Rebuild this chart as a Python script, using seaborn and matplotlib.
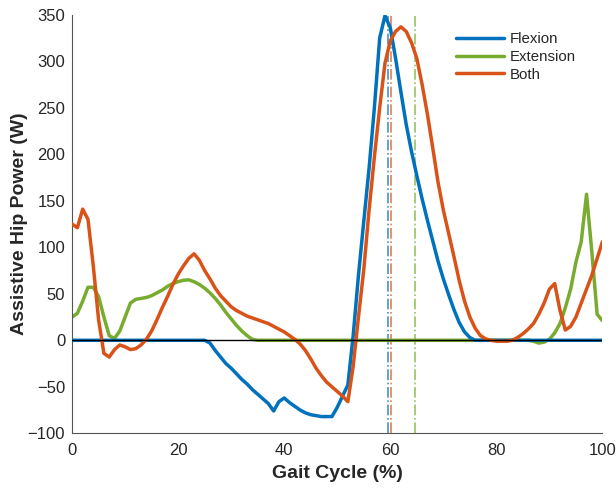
import numpy as np
import pandas as pd
import matplotlib
matplotlib.use("Agg")
import matplotlib.pyplot as plt
import seaborn as sns
from matplotlib.lines import Line2D

gait = list(range(0, 101))

flexion = [0]*26 + [
    -3, -11, -18, -25, -30, -36, -42, -47, -53, -58,          # 26-35
    -63, -68, -76, -66, -62, -67, -71, -75, -78, -80,          # 36-45
    -81, -82, -82, -82, -72, -60, -48, 5, 70, 128,             # 46-55
    185, 250, 325, 349, 336, 303, 267, 232, 203, 177,          # 56-65
    152, 129, 107, 85, 66, 49, 33, 19, 9, 3,                   # 66-75
] + [0]*25

extension = [
    25, 29, 42, 57, 57, 47, 25, 5, 2, 10,                      # 0-9
    25, 40, 44, 45, 46, 48, 51, 54, 58, 61,                    # 10-19
    63, 64.5, 65, 63, 60, 56, 51, 45, 38, 30,                  # 20-29
    23, 16, 10, 5, 1,                                          # 30-34
] + [0]*52 + [
    -1, -3, -2, 1, 8, 18, 35, 55, 84, 106, 157, 95, 28, 21     # 87-100
]

both = [
    125, 121, 141, 130, 80, 22, -14, -18, -10, -5,             # 0-9
    -7, -10, -9, -5, 1, 10, 22, 35, 47, 60,                    # 10-19
    71, 80, 88, 93, 86, 75, 66, 56, 48, 42,                    # 20-29
    36, 32, 29, 26, 24, 22, 20, 18, 15, 12,                    # 30-39
    9, 5, 1, -4, -11, -20, -30, -38, -45, -50,                 # 40-49
    -55, -60, -66, -28, 25, 76, 140, 197, 250, 298,            # 50-59
    322, 332, 337, 332, 320, 303, 275, 243, 207, 170,          # 60-69
    140, 115, 90, 64, 42, 25, 13, 5, 1.5, 0,                   # 70-79
    -1, -1, -1, 0, 3, 7, 12, 18, 28, 40,                       # 80-89
    55, 61, 32, 11, 15, 25, 40, 55, 70, 88, 106                # 90-100
]

series_names = ["Flexion", "Extension", "Both"]
colors = {"Flexion": "#0072BD", "Extension": "#77AC30", "Both": "#D95319"}
peak_lines = {"Flexion": 59.6, "Both": 60.1, "Extension": 64.6}

xticks = [0, 20, 40, 60, 80, 100]
yticks = [-100, -50, 0, 50, 100, 150, 200, 250, 300, 350]

df = pd.DataFrame({"gait": gait, "Flexion": flexion, "Extension": extension, "Both": both})

sns.set_style("white")
plt.rcParams["font.family"] = ["Liberation Sans", "DejaVu Sans"]

fig = plt.figure(figsize=(6.16, 4.91), dpi=100)
ax = fig.add_axes([0.117, 0.1175, 0.861, 0.8525])

zorders = {"Extension": 2, "Flexion": 3, "Both": 4}
for name in ["Extension", "Flexion", "Both"]:
    sns.lineplot(data=df, x="gait", y=name, ax=ax, color=colors[name],
                 linewidth=2.5, zorder=zorders[name], legend=False)

for name, xv in peak_lines.items():
    ax.axvline(xv, color=colors[name], linestyle="-.", linewidth=1.2, alpha=0.75, zorder=1)

ax.axhline(0, color="black", linewidth=1.0, zorder=5)

ax.set_xlim(0, 100)
ax.set_ylim(-100, 350)
ax.set_xticks(xticks)
ax.set_yticks(yticks)
ax.tick_params(direction="in", length=4, width=0.8, colors="#262626", labelsize=12)
ax.tick_params(axis="x", pad=7)
ax.tick_params(axis="y", pad=5)
for s in ["top", "right"]:
    ax.spines[s].set_visible(False)
for s in ["left", "bottom"]:
    ax.spines[s].set_color("#555555")
    ax.spines[s].set_linewidth(0.8)

ax.set_xlabel("Gait Cycle (%)", fontsize=14, fontweight="bold", color="#262626")
ax.set_ylabel("Assistive Hip Power (W)", fontsize=14, fontweight="bold", color="#262626")
ax.xaxis.set_label_coords(0.5, -0.076)
ax.yaxis.set_label_coords(-0.084, 0.5)

handles = [Line2D([0], [0], color=colors[n], linewidth=2.5) for n in series_names]
leg = ax.legend(handles, series_names, loc="upper left", bbox_to_anchor=(0.713, 0.973),
                frameon=False, fontsize=10.8, handlelength=3.2, handletextpad=0.35,
                labelspacing=0.25, borderaxespad=0)
for t in leg.get_texts():
    t.set_color("#262626")

fig.savefig("out.png", dpi=100)
